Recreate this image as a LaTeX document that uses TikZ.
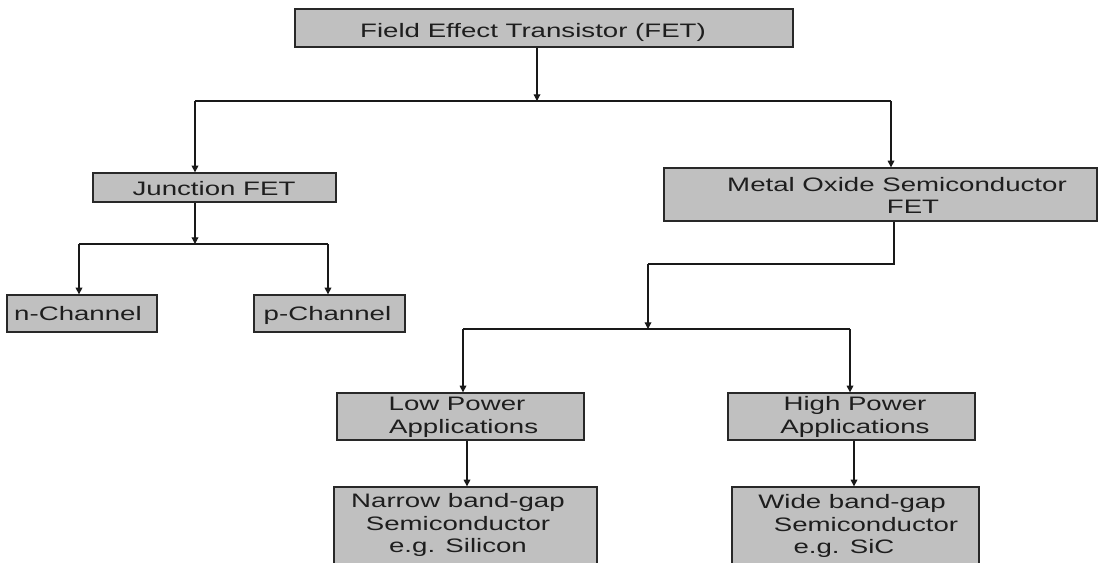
\documentclass[tikz,border=0pt]{standalone}
\usepackage{fontspec}
\setmainfont{Liberation Sans}[FakeStretch=1.42]
\usetikzlibrary{arrows.meta}
\definecolor{boxfill}{RGB}{192,192,192}
\definecolor{boxline}{RGB}{40,40,40}
\definecolor{txt}{RGB}{30,30,30}
\definecolor{conn}{RGB}{25,25,25}
\tikzset{
  box/.style={draw=boxline, fill=boxfill, line width=1pt, rectangle, inner sep=0pt},
  lbl/.style={text=txt, font=\fontsize{14.6}{17}\selectfont, inner sep=0pt, align=center},
  conline/.style={draw=conn, line width=0.9pt},
  arr/.style={conline, -{Triangle[length=5pt,width=5pt]}}
}
\begin{document}
\begin{tikzpicture}[x=0.75pt,y=-0.75pt]
\clip (0,0) rectangle (1099,562);
\fill[white] (0,0) rectangle (1099,562);
% boxes
\node[box, minimum width=373.5pt, minimum height=28.5pt] (fet) at (544,28) {};
\node[box, minimum width=182.25pt, minimum height=21.75pt] (jfet) at (214.5,187.5) {};
\node[box, minimum width=324.75pt, minimum height=39.75pt] (mos) at (880.5,194.5) {};
\node[box, minimum width=112.5pt, minimum height=27.75pt] (nch) at (82,313.5) {};
\node[box, minimum width=113.25pt, minimum height=27.75pt] (pch) at (329.5,313.5) {};
\node[box, minimum width=185.25pt, minimum height=35.25pt] (low) at (460.5,416.5) {};
\node[box, minimum width=185.25pt, minimum height=35.25pt] (high) at (851.5,416.5) {};
\node[box, minimum width=197.25pt, minimum height=84.75pt] (narrow) at (465.5,543.5) {};
\node[box, minimum width=185.25pt, minimum height=84.75pt] (wide) at (855.5,543.5) {};
% texts
\node[lbl, anchor=base] (tfet) at (533,37) {Field Effect Transistor (FET)};
\node[lbl, anchor=base] (tjfet) at (214,195) {Junction FET};
\node[lbl] (tmos) at (897,195.5) {Metal Oxide Semiconductor\\\hspace*{24pt}FET};
\node[lbl, anchor=base] (tnch) at (78,320) {n-Channel};
\node[lbl, anchor=base] (tpch) at (327.5,320) {p-Channel};
\node[lbl] (tlow) at (457,417) {Low Power\\\hspace*{10pt}Applications};
\node[lbl] (thigh) at (855,417) {High Power\\Applications};
\node[lbl] (tnarrow) at (458,525) {Narrow band-gap\\Semiconductor\\e.g. Silicon};
\node[lbl] (twide) at (852,526) {Wide band-gap\\\hspace*{21pt}Semiconductor\\e.g. SiC\hspace*{12pt}\null};
% junction coordinates
\coordinate (j1) at (537,101);
\coordinate (jl) at (195,101);
\coordinate (jr) at (891,101);
\coordinate (j2) at (195,244);
\coordinate (j2l) at (79,244);
\coordinate (j2r) at (328,244);
\coordinate (m1) at (894,264);
\coordinate (m2) at (648,264);
\coordinate (j3) at (648,329);
\coordinate (j3l) at (463,329);
\coordinate (j3r) at (850,329);
\coordinate (s1) at (467,440);
\coordinate (s2) at (854,440);
% connectors
\draw[arr] (fet.south -| j1) -- (j1);
\draw[conline] (jl) -- (jr);
\draw[arr] (jl) -- (jl |- jfet.north);
\draw[arr] (jr) -- (jr |- mos.north);
\draw[arr] (jfet.south -| j2) -- (j2);
\draw[conline] (j2l) -- (j2r);
\draw[arr] (j2l) -- (j2l |- nch.north);
\draw[arr] (j2r) -- (j2r |- pch.north);
\draw[conline] (mos.south -| m1) -- (m1) -- (m2);
\draw[arr] (m2) -- (j3);
\draw[conline] (j3l) -- (j3r);
\draw[arr] (j3l) -- (j3l |- low.north);
\draw[arr] (j3r) -- (j3r |- high.north);
\draw[arr] (low.south -| s1) -- (s1 |- narrow.north);
\draw[arr] (high.south -| s2) -- (s2 |- wide.north);
\end{tikzpicture}
\end{document}
